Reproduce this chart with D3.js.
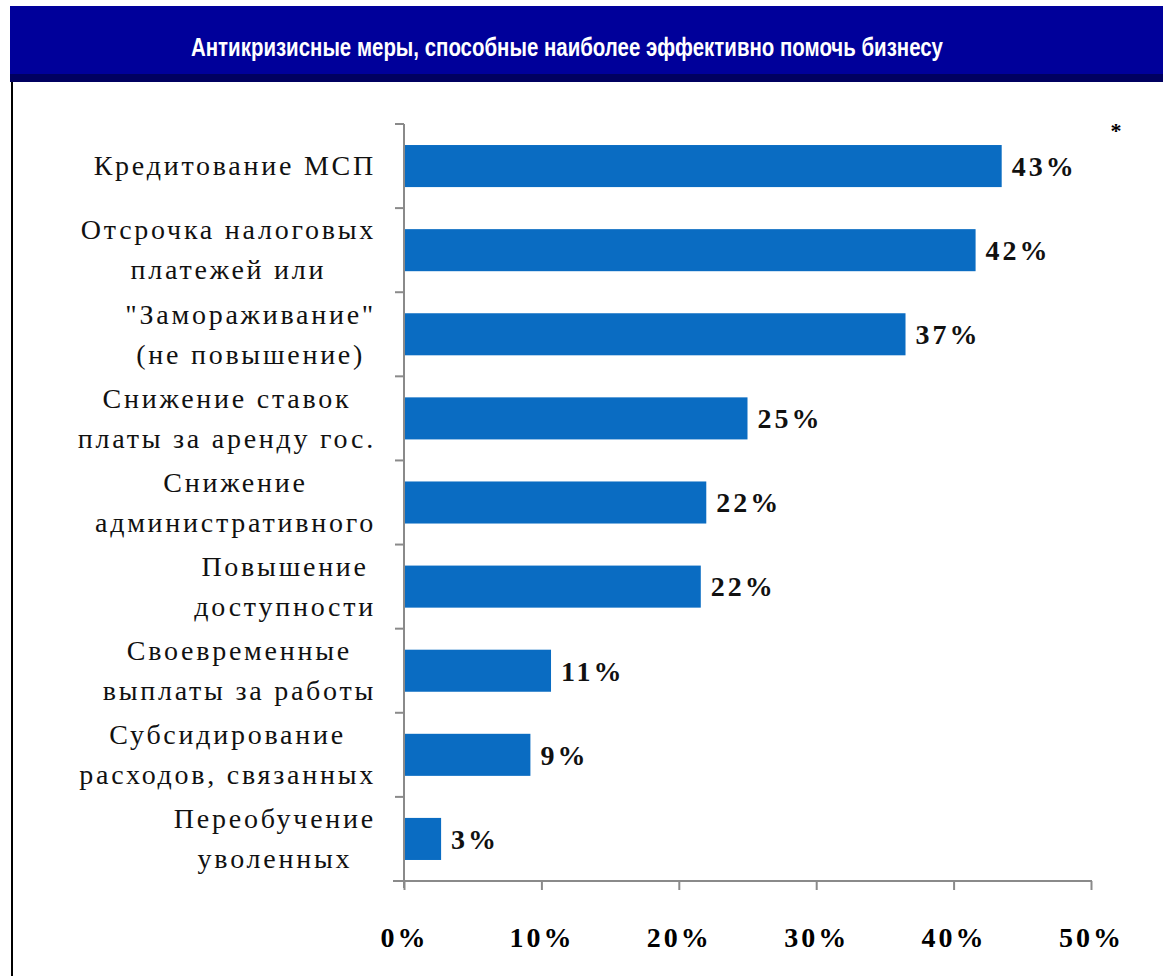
<!DOCTYPE html>
<html><head><meta charset="utf-8">
<script src="https://cdn.jsdelivr.net/npm/d3@7"></script>
<style>html,body{margin:0;padding:0;background:#fff;}svg{display:block;}</style>
</head><body>
<svg id="c" width="1163" height="976"></svg>
<script>
const title = "Антикризисные меры, способные наиболее эффективно помочь бизнесу";
const categories = [
  "Кредитование МСП",
  "Отсрочка налоговых\nплатежей или",
  "\"Замораживание\"\n(не повышение)",
  "Снижение ставок\nплаты за аренду гос.",
  "Снижение\nадминистративного",
  "Повышение\nдоступности",
  "Своевременные\nвыплаты за работы",
  "Субсидирование\nрасходов, связанных",
  "Переобучение\nуволенных"
];
const values = [43.5, 41.6, 36.5, 25.0, 22.0, 21.6, 10.7, 9.2, 2.7];
const valueLabels = ["43%", "42%", "37%", "25%", "22%", "22%", "11%", "9%", "3%"];
const xTicks = [0, 10, 20, 30, 40, 50];
const xTickLabels = ["0%", "10%", "20%", "30%", "40%", "50%"];

const svg = d3.select("#c");
const serif = "'Liberation Serif', 'Times New Roman', serif";

// title bar
svg.append("rect").attr("x", 10).attr("y", 6).attr("width", 1153).attr("height", 76).attr("fill", "#00009a");
svg.append("rect").attr("x", 10).attr("y", 74).attr("width", 1153).attr("height", 8).attr("fill", "#000060");
svg.append("text").attr("x", 567).attr("y", 56).attr("text-anchor", "middle")
  .attr("fill", "#fff").attr("font-family", "'Liberation Sans', Arial, sans-serif")
  .attr("font-weight", "bold").attr("font-size", 25)
  .attr("textLength", 752).attr("lengthAdjust", "spacingAndGlyphs")
  .text(title);
// left border
svg.append("line").attr("x1", 12).attr("x2", 12).attr("y1", 82).attr("y2", 976).attr("stroke", "#000").attr("stroke-width", 2);

const x = d3.scaleLinear().domain([0, 50]).range([404, 1091]);
const y = d3.scaleBand().domain(categories).range([124, 881]).paddingInner(0.5).paddingOuter(0.25);
const axisColor = "#8a8a8a";

// y axis line + boundary ticks
svg.append("line").attr("x1", 404).attr("x2", 404).attr("y1", 124).attr("y2", 888).attr("stroke", axisColor).attr("stroke-width", 2);
const bounds = d3.range(categories.length + 1).map(i => y.range()[0] + i * (y.range()[1] - y.range()[0]) / categories.length);
svg.selectAll(".yt").data(bounds).join("line")
  .attr("x1", 395).attr("x2", 404).attr("y1", d => d).attr("y2", d => d)
  .attr("stroke", axisColor).attr("stroke-width", 2);

// x axis
const xAxis = d3.axisBottom(x).tickValues(xTicks).tickFormat((d, i) => xTickLabels[i]).tickSize(9).tickPadding(32).tickSizeOuter(0);
const gx = svg.append("g").attr("transform", "translate(0,881)").call(xAxis);
gx.select(".domain").remove();
gx.selectAll(".tick line").attr("stroke", axisColor).attr("stroke-width", 2);
gx.selectAll(".tick text").attr("fill", "#000").attr("font-family", serif).attr("font-size", 28)
  .attr("letter-spacing", 3).attr("font-weight", "bold").attr("dy", "0.9em");
svg.append("line").attr("x1", 393).attr("x2", 1092).attr("y1", 881).attr("y2", 881).attr("stroke", axisColor).attr("stroke-width", 2);

// bars
svg.selectAll(".bar").data(values).join("rect")
  .attr("x", x(0) + 1).attr("y", (d, i) => y(categories[i]))
  .attr("width", d => x(d) - x(0) - 1).attr("height", y.bandwidth())
  .attr("fill", "#0a6cc2");

// value labels
svg.selectAll(".vl").data(values).join("text")
  .attr("x", d => x(d) + 10).attr("y", (d, i) => y(categories[i]) + y.bandwidth() / 2)
  .attr("dy", "0.35em").attr("font-family", serif).attr("font-size", 28).attr("font-weight", "bold")
  .attr("letter-spacing", 3).attr("fill", "#111")
  .text((d, i) => valueLabels[i]);

// category labels
const rightEdge = 376;
categories.forEach((c, i) => {
  const lines = c.split("\n");
  const cy = y(c) + y.bandwidth() / 2;
  const g = svg.append("g");
  const texts = lines.map((ln, j) => g.append("text")
    .attr("y", cy + (j - (lines.length - 1) / 2) * 40)
    .attr("dy", "0.33em").attr("font-family", serif).attr("font-size", 28)
    .attr("letter-spacing", 2.75).attr("fill", "#111").text(ln));
  const widths = texts.map(t => t.node().getComputedTextLength());
  const maxW = d3.max(widths);
  texts.forEach(t => t.attr("x", rightEdge - maxW / 2).attr("text-anchor", "middle"));
});

// asterisk
svg.append("text").attr("x", 1116).attr("y", 138).attr("text-anchor", "middle")
  .attr("font-family", serif).attr("font-weight", "bold").attr("font-size", 22).attr("fill", "#000").text("*");
</script>
</body></html>
